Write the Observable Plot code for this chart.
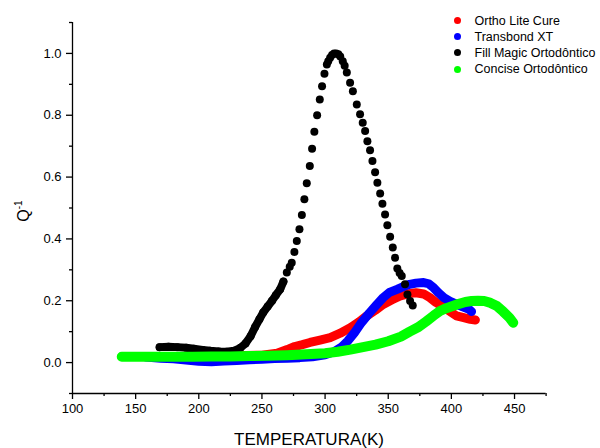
<!DOCTYPE html>
<html><head><meta charset="utf-8">
<script src="https://cdn.jsdelivr.net/npm/d3@7"></script>
<script src="https://cdn.jsdelivr.net/npm/@observablehq/plot@0.6"></script>
<style>
body{margin:0;background:#fff;font-family:"Liberation Sans",Arial,sans-serif;}
#wrap{position:relative;width:600px;height:448px;overflow:hidden;}
#wrap svg{position:absolute;left:0;top:0;}
.legend{position:absolute;left:452px;top:12.5px;font-size:12.5px;color:#000;}
.legend .row{height:16.2px;line-height:16.2px;display:flex;align-items:center;white-space:nowrap;}
.legend .dot{display:inline-block;width:7px;height:7px;border-radius:50%;margin-left:1.5px;margin-right:14px;}
.ylab{position:absolute;left:23px;top:211px;transform:translate(-50%,-50%) rotate(-90deg);font-size:16px;white-space:nowrap;}
.ylab sup{font-size:10px;vertical-align:7px;}
.xlab{position:absolute;left:309px;top:440px;transform:translate(-50%,-50%);font-size:17px;white-space:nowrap;}
</style></head>
<body><div id="wrap"></div>
<script>
// ---- data ----
const seriesNames = ["Ortho Lite Cure", "Transbond XT", "Fill Magic Ortodôntico", "Concise Ortodôntico"];
const seriesColors = ["#ff0000", "#0000ff", "#000000", "#00ff00"];

const redT = [150,170,190,210,230,250,262,270,276,282,288,296,304,312,320,327,333,340,346,353,359,366,372,378,383,388,394,399,404,409,415,419];
const redQ = [0.02,0.02,0.02,0.021,0.022,0.024,0.03,0.042,0.052,0.058,0.065,0.073,0.081,0.095,0.113,0.132,0.151,0.17,0.188,0.203,0.215,0.223,0.226,0.222,0.21,0.194,0.178,0.165,0.151,0.146,0.14,0.138];

const blueT = [158,170,180,190,200,210,220,230,240,250,260,270,280,290,300,307,313,318,323,328,335,341,346,351,357,362,367,372,378,382,386,390,394,399,404,409,414,416];
const blueQ = [0.018,0.014,0.012,0.008,0.004,0.003,0.005,0.007,0.009,0.011,0.013,0.014,0.016,0.019,0.025,0.035,0.05,0.07,0.095,0.125,0.16,0.188,0.21,0.227,0.237,0.246,0.253,0.257,0.259,0.255,0.242,0.225,0.21,0.198,0.189,0.18,0.172,0.165];

const blackT = [169,176,183,190,196,203,209,216,222,228,233,237,241,244.6,248,251,254.5,258,261,264.4,267,269.7,272,273.6,275.7,277.6,279.7,281.6,283.6,285.5,287.9,289.7,291.5,293.7,295.8,297.6,299.5,301.4,302.5,304,305.5,307.1,308.8,310.5,312,314,315.5,317.2,319.8,322,325.1,327.7,329.8,331.7,333.5,335.6,337.5,339.6,341.4,343.6,345.4,347.5,349.3,351.5,353.6,355.4,357.2,359,360.7,363.3,365.2,367.3,369.4];
const blackQ = [0.05,0.051,0.05,0.048,0.045,0.041,0.038,0.036,0.035,0.038,0.048,0.062,0.085,0.115,0.14,0.162,0.181,0.2,0.218,0.237,0.262,0.291,0.31,0.323,0.358,0.393,0.431,0.477,0.528,0.58,0.636,0.692,0.747,0.8,0.851,0.894,0.934,0.964,0.975,0.986,0.995,1.0,1.0,0.997,0.99,0.975,0.96,0.938,0.905,0.878,0.835,0.803,0.776,0.749,0.716,0.687,0.652,0.616,0.582,0.547,0.514,0.479,0.444,0.407,0.372,0.339,0.304,0.29,0.28,0.253,0.22,0.199,0.185];

const greenT = [139,150,165,180,195,210,225,240,255,270,285,300,310,320,330,340,350,360,367,374,380,386,391,396,401,406,411,416,421,426,431,436,441,446,449];
const greenQ = [0.019,0.019,0.019,0.019,0.019,0.02,0.02,0.021,0.022,0.024,0.027,0.03,0.035,0.042,0.05,0.058,0.069,0.084,0.1,0.115,0.133,0.152,0.167,0.176,0.183,0.19,0.196,0.199,0.2,0.199,0.193,0.183,0.165,0.145,0.129];

const xMajor = [100,150,200,250,300,350,400,450];
const xMinor = [125,175,225,275,325,375,425,475];
const yMajor = [0,0.2,0.4,0.6,0.8,1.0];
const yMinor = [-0.1,0.1,0.3,0.5,0.7,0.9,1.1];

// ---- build ----
const toRows = (T, Q) => T.map((t, i) => ({T: t, Q: Q[i]}));
const red = toRows(redT, redQ), blue = toRows(blueT, blueQ), black = toRows(blackT, blackQ), green = toRows(greenT, greenQ);
const lineOpts = {x: "T", y: "Q", strokeWidth: 9, strokeLinecap: "round", strokeLinejoin: "round", curve: "linear"};

const chart = Plot.plot({
  width: 600, height: 448,
  marginLeft: 72, marginRight: 54.4, marginTop: 22, marginBottom: 55,
  x: {domain: [100, 475]},
  y: {domain: [-0.1, 1.1]},
  style: {fontFamily: "'Liberation Sans', Arial, sans-serif", fontSize: "13px", color: "#000", background: "#fff"},
  marks: [
    Plot.line(red, {...lineOpts, stroke: seriesColors[0]}),
    Plot.line(blue, {...lineOpts, stroke: seriesColors[1]}),
    Plot.line(black.filter(d => d.T <= 267), {...lineOpts, stroke: seriesColors[2], strokeWidth: 8}),
    Plot.dot(black, {x: "T", y: "Q", r: 4, fill: seriesColors[2], stroke: "none"}),
    Plot.line(green, {...lineOpts, stroke: seriesColors[3], strokeWidth: 10}),
    Plot.axisX({ticks: xMajor, tickSize: 6, tickPadding: 4, tickFormat: d => d, label: null, strokeWidth: 1.3}),
    Plot.axisX({ticks: xMinor, tickSize: 3, tickFormat: () => "", label: null, strokeWidth: 1.3}),
    Plot.axisY({ticks: yMajor, tickSize: 6, tickPadding: 5, tickFormat: d3.format(".1f"), label: null, strokeWidth: 1.3}),
    Plot.axisY({ticks: yMinor, tickSize: 3, tickFormat: () => "", label: null, strokeWidth: 1.3}),
    Plot.ruleX([100], {strokeWidth: 1.3}),
    Plot.ruleY([-0.1], {strokeWidth: 1.3})
  ]
});

const wrap = document.getElementById("wrap");
wrap.appendChild(chart);

const legend = document.createElement("div");
legend.className = "legend";
seriesNames.forEach((name, i) => {
  const row = document.createElement("div");
  row.className = "row";
  const dot = document.createElement("span");
  dot.className = "dot";
  dot.style.background = seriesColors[i];
  row.appendChild(dot);
  row.appendChild(document.createTextNode(name));
  legend.appendChild(row);
});
wrap.appendChild(legend);

const ylab = document.createElement("div");
ylab.className = "ylab";
ylab.innerHTML = "Q<sup>-1</sup>";
wrap.appendChild(ylab);

const xlab = document.createElement("div");
xlab.className = "xlab";
xlab.textContent = "TEMPERATURA(K)";
wrap.appendChild(xlab);
</script>
</body></html>
